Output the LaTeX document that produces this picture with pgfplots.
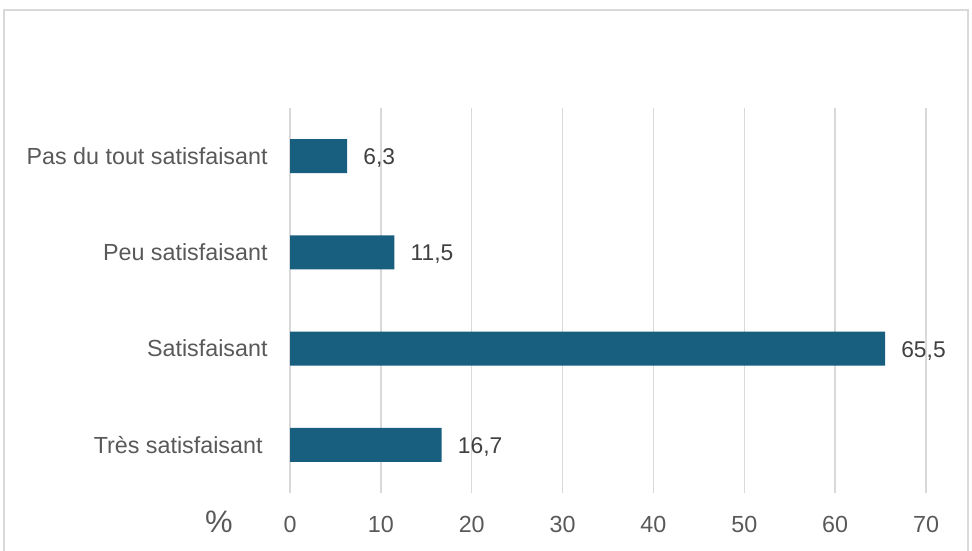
\documentclass[border=0pt]{standalone}
\usepackage{pgfplots}
\pgfplotsset{compat=1.18}
\usepackage{fontspec}
\setmainfont{Liberation Sans}

\definecolor{barblue}{RGB}{23,94,127}
\definecolor{gridgray}{RGB}{217,217,217}
\definecolor{labelgray}{RGB}{89,89,89}
\definecolor{textgray}{RGB}{64,64,64}

\begin{document}
\begin{tikzpicture}
\useasboundingbox (0,0) rectangle (972pt,551pt);
% chart frame (its lower edge lies below the page)
\draw[gridgray, line width=1.5pt] (4pt,-10pt) -- (4pt,541pt) -- (968pt,541pt) -- (968pt,-10pt);

\begin{axis}[
  at={(290pt,58pt)}, anchor=south west,
  scale only axis, width=636pt, height=385pt,
  xmin=0, xmax=70, ymin=0.5, ymax=4.5,
  xbar, bar width=34pt,
  axis line style={draw=none},
  tick style={draw=none},
  xmajorgrids,
  grid style={gridgray, line width=1.5pt},
  xtick={0,10,...,70},
  ytick={1,2,3,4},
  yticklabels={Très satisfaisant\kern5pt, Satisfaisant, Peu satisfaisant, Pas du tout satisfaisant},
  /pgf/number format/.cd, assume math mode=true, use comma, fixed, fixed zerofill, precision=1,
  /pgfplots/.cd,
  xticklabel={\pgfmathprintnumber[fixed, precision=0, fixed zerofill=false]{\tick}},
  xticklabel style={anchor=center, yshift=-31pt, inner sep=0pt,
    font=\fontsize{23.3}{27}\selectfont, text=labelgray},
  yticklabel style={anchor=east, xshift=-18pt, inner sep=0pt,
    font=\fontsize{23.3}{27}\selectfont, text=labelgray},
  nodes near coords,
  nodes near coords style={anchor=west, xshift=16pt, yshift=-2pt, inner sep=0pt,
    font=\fontsize{22.8}{27}\selectfont, text=textgray},
]
\addplot[fill=barblue, draw=none] coordinates {
  (16.7,1) (65.5,2) (11.5,3) (6.3,4)
};
\end{axis}

\node[text=labelgray, font=\fontsize{31}{36}\selectfont, inner sep=0pt] at (219pt,29pt) {\%};
\end{tikzpicture}
\end{document}
